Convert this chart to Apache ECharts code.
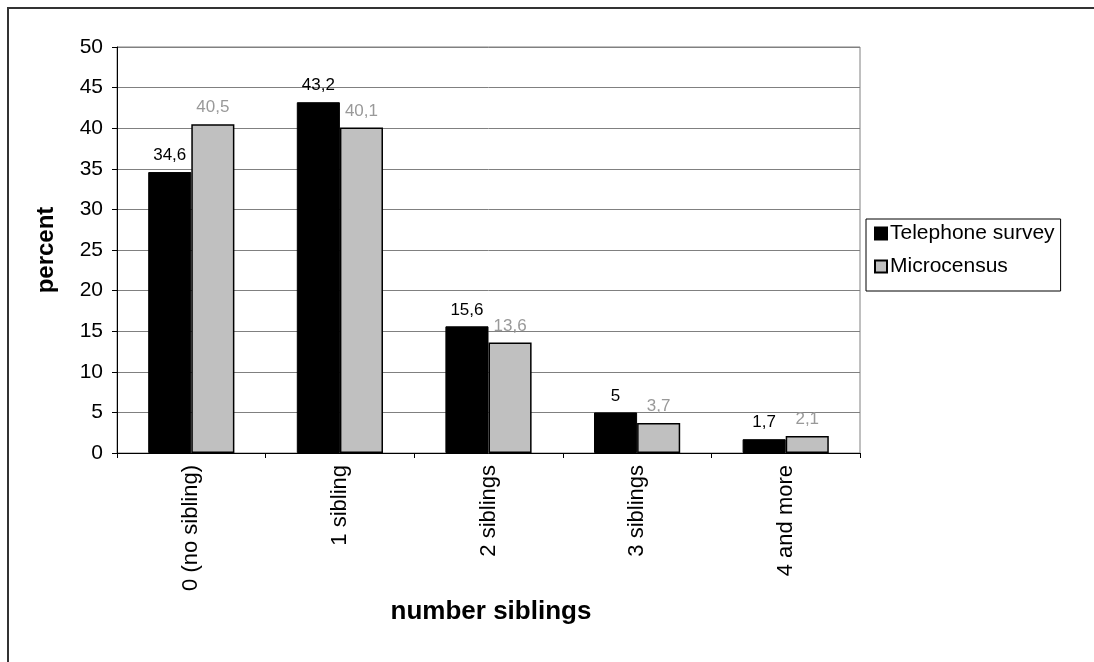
<!DOCTYPE html>
<html>
<head>
<meta charset="utf-8">
<script src="https://cdn.jsdelivr.net/npm/echarts@6/dist/echarts.min.js"></script>
<style>
  html, body { margin: 0; padding: 0; background: #fff; }
  #chart { width: 1094px; height: 662px; }
</style>
</head>
<body>
<div id="chart"></div>
<script>
// Number of siblings: telephone survey vs. microcensus (percent)
const categories = ['0 (no sibling)', '1 sibling', '2 siblings', '3 siblings', '4 and more'];
const telephoneSurvey = [34.6, 43.2, 15.6, 5, 1.7];
const microcensus = [40.5, 40.1, 13.6, 3.7, 2.1];
const seriesNames = ['Telephone survey', 'Microcensus'];
const yTicks = { min: 0, max: 50, interval: 5 };

const FONT = '"Liberation Sans", Arial, sans-serif';
const fmt = v => String(v).replace('.', ',');

const chart = echarts.init(document.getElementById('chart'), null, { renderer: 'canvas' });

chart.setOption({
  backgroundColor: '#fff',
  animation: false,
  textStyle: { fontFamily: FONT },
  grid: {
    left: 117, right: 234, top: 47, bottom: 209,
    show: true, borderColor: '#808080', borderWidth: 1, backgroundColor: 'transparent'
  },
  legend: {
    orient: 'vertical',
    left: 866, top: 219,
    padding: [4, 6, 14, 8],
    itemGap: 12,
    itemWidth: 12, itemHeight: 12,
    icon: 'rect',
    borderColor: '#000', borderWidth: 1,
    textStyle: { fontSize: 21, color: '#000', fontFamily: FONT, padding: [0, 0, 0, -2] },
    data: seriesNames
  },
  xAxis: {
    type: 'category',
    data: categories,
    axisLine: { lineStyle: { color: '#000', width: 1 } },
    axisTick: { show: true, length: 5, lineStyle: { color: '#000' } },
    axisLabel: { rotate: 90, fontSize: 22, color: '#000', margin: 12, fontFamily: FONT },
    splitLine: { show: false }
  },
  yAxis: {
    type: 'value',
    min: yTicks.min, max: yTicks.max, interval: yTicks.interval,
    axisLine: { show: true, lineStyle: { color: '#000', width: 1 } },
    axisTick: { show: true, length: 5, lineStyle: { color: '#000' } },
    axisLabel: { fontSize: 21, color: '#000', margin: 14, fontFamily: FONT },
    splitLine: { show: true, lineStyle: { color: '#808080', width: 1 } }
  },
  series: [
    {
      name: seriesNames[0],
      type: 'bar',
      data: telephoneSurvey,
      barGap: '0%',
      barCategoryGap: '42%',
      itemStyle: { color: '#000', borderColor: '#000', borderWidth: 1 },
      label: {
        show: true, position: 'top', distance: 8,
        fontSize: 17, color: '#000', fontFamily: FONT,
        formatter: p => fmt(p.value)
      }
    },
    {
      name: seriesNames[1],
      type: 'bar',
      data: microcensus,
      barGap: '0%',
      barCategoryGap: '42%',
      itemStyle: { color: '#c0c0c0', borderColor: '#000', borderWidth: 1.5 },
      label: {
        show: true, position: 'top', distance: 8,
        fontSize: 17, color: '#999999', fontFamily: FONT,
        formatter: p => fmt(p.value)
      }
    }
  ],
  graphic: [
    {
      type: 'rect', silent: true, z: -1,
      shape: { x: 8, y: 8, width: 1200, height: 800 },
      style: { fill: 'none', stroke: '#333', lineWidth: 2 }
    },
    {
      type: 'text', silent: true,
      x: 491, y: 612,
      style: {
        text: 'number siblings', fill: '#000',
        font: 'bold 26px ' + FONT, align: 'center', verticalAlign: 'middle'
      }
    },
    {
      type: 'text', silent: true,
      x: 46, y: 250, rotation: Math.PI / 2,
      style: {
        text: 'percent', fill: '#000',
        font: 'bold 24px ' + FONT, align: 'center', verticalAlign: 'middle'
      }
    }
  ]
});
</script>
</body>
</html>
